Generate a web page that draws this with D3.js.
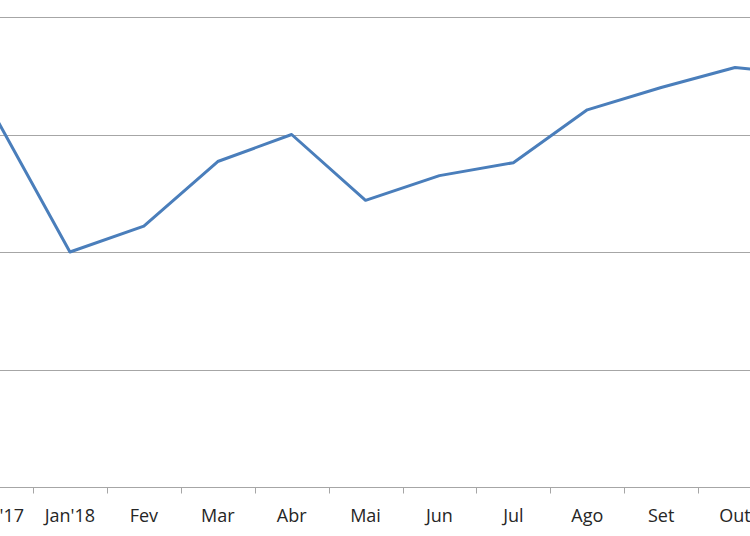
<!DOCTYPE html>
<html>
<head>
<meta charset="utf-8">
<script src="https://cdn.jsdelivr.net/npm/d3@7"></script>
<style>
  html, body { margin: 0; padding: 0; background: #fff; overflow: hidden; }
  svg { display: block; }
</style>
</head>
<body>
<svg id="chart" width="750" height="536"></svg>
<script>
// Data (the chart is cropped at left and right)
const categories = ["Dez'17", "Jan'18", "Fev", "Mar", "Abr", "Mai", "Jun", "Jul", "Ago", "Set", "Out", "Nov"];
const values = [3.14, 2.00, 2.22, 2.77, 3.00, 2.44, 2.65, 2.76, 3.21, 3.40, 3.57, 3.51];
const yTicks = [0, 1, 2, 3, 4];

const svg = d3.select("#chart");
const W = 750, H = 536;

// Plot area extends beyond the visible window (the reference is cropped)
const xStart = -40.9, step = 73.9;
const x = d3.scaleBand()
  .domain(categories)
  .range([xStart, xStart + step * categories.length])
  .padding(0);

const y = d3.scaleLinear().domain([0, 4]).range([487, 17]);

// Gridlines
svg.append("g")
  .selectAll("line")
  .data(yTicks.filter(d => d > 0))
  .join("line")
  .attr("x1", 0).attr("x2", W)
  .attr("y1", d => Math.round(y(d)) + 0.5)
  .attr("y2", d => Math.round(y(d)) + 0.5)
  .attr("stroke", "#a6a6a6")
  .attr("stroke-width", 1);

// X axis
const gx = svg.append("g")
  .attr("transform", `translate(0,${Math.round(y(0)) + 0.5})`);
gx.append("line")
  .attr("x1", 0).attr("x2", W).attr("y1", 0).attr("y2", 0)
  .attr("stroke", "#a6a6a6");
// Tick marks at category boundaries
const boundaries = categories.slice(1).map(c => x(c));
gx.selectAll("line.tick")
  .data(boundaries)
  .join("line")
  .attr("class", "tick")
  .attr("x1", d => Math.round(d) + 0.5).attr("x2", d => Math.round(d) + 0.5)
  .attr("y1", 0).attr("y2", 6)
  .attr("stroke", "#a6a6a6");
gx.selectAll("text")
  .data(categories)
  .join("text")
  .attr("x", d => x(d) + x.bandwidth() / 2)
  .attr("y", 34)
  .attr("text-anchor", "middle")
  .attr("font-family", "'Open Sans', sans-serif")
  .attr("font-size", "18px")
  .attr("fill", "#262626")
  .text(d => d);

// Line
const line = d3.line()
  .x((d, i) => x(categories[i]) + x.bandwidth() / 2)
  .y(d => y(d));

svg.append("path")
  .datum(values)
  .attr("d", line)
  .attr("fill", "none")
  .attr("stroke", "#4a7ebb")
  .attr("stroke-width", 3)
  .attr("stroke-linejoin", "round");
</script>
</body>
</html>
